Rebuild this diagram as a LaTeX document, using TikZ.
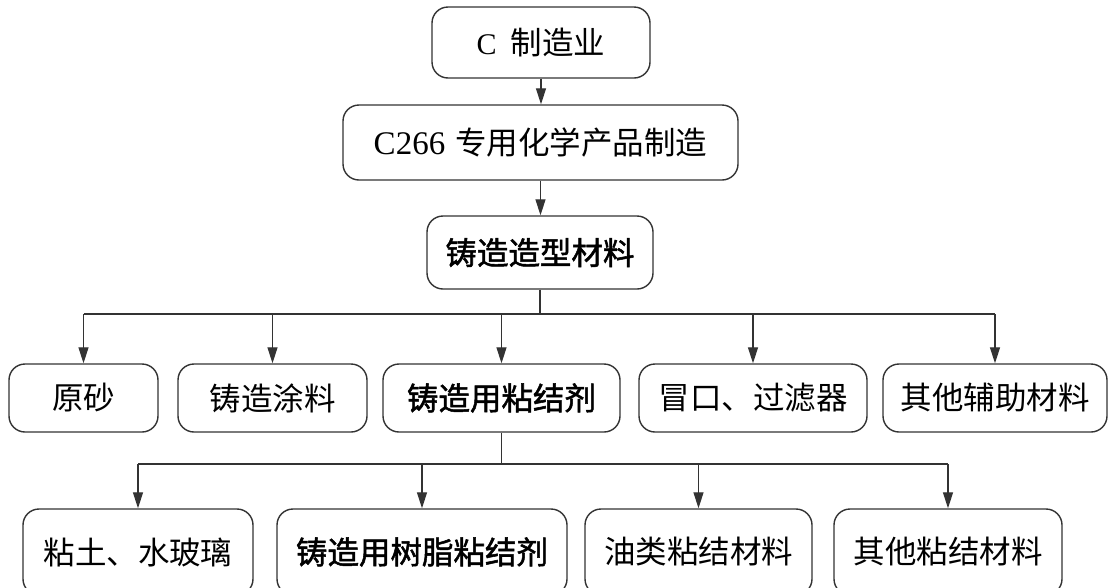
\documentclass[tikz,border=0pt]{standalone}
\usepackage{fontspec}
\setmainfont{Liberation Serif}
\newfontfamily\cjk{Noto Sans CJK SC}
\newfontfamily\cjkheavy[FakeBold=1.6]{Noto Sans CJK SC}
\usetikzlibrary{arrows.meta}

\tikzset{
  box/.style={draw=black!80, line width=1.4pt, rounded corners=16pt, fill=white,
    inner sep=0pt, text=black, font=\cjk\fontsize{31.5}{36}\selectfont},
  boldbox/.style={box, font=\cjkheavy\fontsize{31.5}{36}\selectfont},
  link/.style={draw=black!80, line width=1.2pt},
  arr/.style={link, -{Triangle[length=16pt,width=10pt]}}
}

\begin{document}
\begin{tikzpicture}[x=1pt,y=-1pt]
  \useasboundingbox (0,0) rectangle (1109,587);
  \fill[white] (0,0) rectangle (1109,587);
  \clip (0,0) rectangle (1109,587);

  % top chain
  \node[box, minimum width=218pt, minimum height=71pt] (mfg) at (541,42.5)
    {{\rmfamily\fontsize{30}{36}\selectfont C}\hspace{14pt}制造业};
  \node[box, minimum width=395pt, minimum height=75pt] (chem) at (540.5,142.5)
    {{\rmfamily\fontsize{33}{36}\selectfont C266}\hspace{10pt}专用化学产品制造};
  \node[boldbox, minimum width=226pt, minimum height=73pt] (mold) at (540,252.5)
    {铸造造型材料};

  % second level
  \node[box, minimum width=149pt, minimum height=68pt] (sand) at (83.5,398) {原砂};
  \node[box, minimum width=189pt, minimum height=68pt] (coat) at (272.5,398) {铸造涂料};
  \node[boldbox, minimum width=237pt, minimum height=68pt] (bind) at (501.5,398) {铸造用粘结剂};
  \node[box, minimum width=228pt, minimum height=68pt] (riser) at (753,398) {冒口、过滤器};
  \node[box, minimum width=224pt, minimum height=68pt] (aux) at (995,398) {其他辅助材料};

  % third level
  \node[box, minimum width=230pt, minimum height=86pt] (clay) at (138,552) {粘土、水玻璃};
  \node[boldbox, minimum width=290pt, minimum height=86pt] (resin) at (422,552) {铸造用树脂粘结剂};
  \node[box, minimum width=227pt, minimum height=86pt] (oil) at (698.5,552) {油类粘结材料};
  \node[box, minimum width=228pt, minimum height=86pt] (other) at (948,552) {其他粘结材料};

  % bus lines
  \coordinate (busA) at (0,314);
  \coordinate (busB) at (0,464);

  \draw[arr] (mfg.south) -- (mfg.south |- chem.north);
  \draw[arr] (chem.south) -- (chem.south |- mold.north);

  \draw[link] (mold.south) -- (mold.south |- busA);
  \draw[link] (sand.north |- busA) -- (aux.north |- busA);
  \foreach \n in {sand,coat,bind,riser,aux}
    \draw[arr] (\n.north |- busA) -- (\n.north);

  \draw[link] (bind.south) -- (bind.south |- busB);
  \draw[link] (clay.north |- busB) -- (other.north |- busB);
  \foreach \n in {clay,resin,oil,other}
    \draw[arr] (\n.north |- busB) -- (\n.north);
\end{tikzpicture}
\end{document}
